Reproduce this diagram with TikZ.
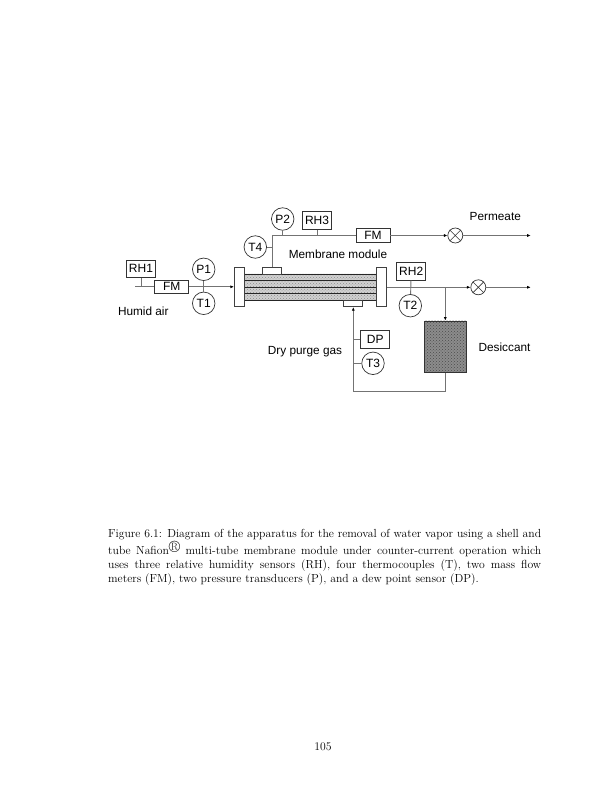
\documentclass[tikz,border=0pt]{standalone}
\usepackage{fontspec}
\newfontfamily\labelfont{Liberation Sans}
\usetikzlibrary{arrows.meta,patterns,positioning}
\tikzset{
    pipe/.style={draw=black!55, line width=0.9pt},
    flow/.style={pipe, -{Latex[length=3.5pt,width=3pt,black]}},
    inst/.style={draw=black!80, line width=0.7pt, fill=white, inner sep=0pt, font=\labelfont\fontsize{12}{13}\selectfont},
    sensorbox/.style={inst, rectangle, minimum width=29pt, minimum height=17.5pt},
    meterbox/.style={inst, rectangle, minimum width=34pt, minimum height=13.5pt},
    sensorcirc/.style={inst, circle, minimum size=22.5pt},
    valve/.style={draw=black!80, line width=0.7pt, fill=white, circle, inner sep=0pt, minimum size=15pt},
    flange/.style={draw=black!75, line width=0.7pt, fill=white, rectangle, inner sep=0pt, minimum width=10pt, minimum height=39pt},
    tab/.style={draw=black!75, line width=0.7pt, fill=white, rectangle, inner sep=0pt, minimum width=19pt, minimum height=6.7pt},
    tube/.style={draw=black!85, line width=0.9pt, rectangle, inner sep=0pt, minimum width=132.7pt, minimum height=6.5pt,
        preaction={fill=black!18}, pattern=crosshatch dots, pattern color=black!45},
    plain/.style={font=\labelfont\fontsize{11.8}{13}\selectfont, inner sep=0pt},
}
\begin{document}
\begin{tikzpicture}[x=1pt,y=-1pt]
    \useasboundingbox (0,0) rectangle (612,792);
    % membrane module
    \foreach \n/\y in {1/277.2,2/283.7,3/290.3,4/296.9}
        \node[tube] (tube\n) at (310.4,\y) {};
    \node[flange] (fleft) at (239.3,286.8) {};
    \node[flange] (fright) at (381.5,286.8) {};
    \node[tab] (tabtop) at (272.3,270.7) {};
    \node[tab] (tabbot) at (353.3,303.4) {};
    \node[plain] (module) at (338,254.3) {Membrane module};
    % instruments
    \node[sensorbox] (rh1) at (141,268.8) {RH1};
    \node[meterbox] (fm1) at (171.7,286.8) {FM};
    \node[sensorcirc] (p1) at (203.7,269.3) {P1};
    \node[sensorcirc] (t1) at (203.7,303.3) {T1};
    \node[sensorcirc] (t4) at (255.3,247) {T4};
    \node[sensorcirc] (p2) at (282.7,219) {P2};
    \node[sensorbox] (rh3) at (317,220.5) {RH3};
    \node[meterbox] (fm2) at (373,235.5) {FM};
    \node[sensorbox] (rh2) at (411.2,271.2) {RH2};
    \node[sensorcirc] (t2) at (410.3,305.7) {T2};
    \node[sensorbox] (dp) at (375.3,339.3) {DP\hspace{6pt}};
    \node[sensorcirc] (t3) at (373,363.3) {T3};
    \node[valve] (v1) at (455.3,235.5) {};
    \node[valve] (v2) at (478.3,287.3) {};
    \node[draw=black!80, line width=0.7pt, rectangle, inner sep=0pt, minimum width=42.7pt, minimum height=51.7pt,
        preaction={fill=black!45}, pattern=crosshatch dots, pattern color=black!70] (desiccant) at (445.3,346.8) {};
    % free ends and junctions
    \coordinate (airin) at (135,286.8);
    \coordinate (rh1j) at (141,286.8);
    \coordinate (topj) at (272.3,235.5);
    \coordinate (t4j) at (272.3,247);
    \coordinate (p2j) at (282.7,235.5);
    \coordinate (rh3j) at (317,235.5);
    \coordinate (permout) at (530.7,235.5);
    \coordinate (sidej) at (445.3,287.3);
    \coordinate (dryout) at (530.7,287.3);
    \coordinate (retb) at (445.3,391.7);
    \coordinate (reta) at (353.3,391.7);
    \coordinate (dpj) at (353.3,339.3);
    \coordinate (t3j) at (353.3,363.3);
    % connectors
    \draw[pipe] (airin) -- (fm1);
    \draw[flow] (fm1) -- (fleft);
    \draw[pipe] (rh1) -- (rh1j);
    \draw[pipe] (p1) -- (t1);
    \draw[pipe] (tabtop) -- (topj) -- (fm2);
    \draw[pipe] (t4) -- (t4j);
    \draw[pipe] (p2) -- (p2j);
    \draw[pipe] (rh3) -- (rh3j);
    \draw[flow] (fm2) -- (v1);
    \draw[flow] (v1) -- (permout);
    \draw[flow] (fright.east |- v2) -- (v2);
    \draw[flow] (v2) -- (dryout);
    \draw[pipe] (rh2) -- (t2);
    \draw[flow] (sidej) -- (desiccant);
    \draw[flow] (desiccant) -- (retb) -- (reta) -- (tabbot);
    \draw[pipe] (dp) -- (dpj);
    \draw[pipe] (t3) -- (t3j);
    % valve crosses
    \draw[draw=black!80, line width=0.6pt] (v1.north west) -- (v1.south east) (v1.north east) -- (v1.south west);
    \draw[draw=black!80, line width=0.6pt] (v2.north west) -- (v2.south east) (v2.north east) -- (v2.south west);
    % labels
    \node[plain] (permeate) at (495.3,216.7) {Permeate};
    \node[plain] (humid) at (143.3,311.7) {Humid air};
    \node[plain] (dry) at (305,352) {Dry purge gas};
    \node[plain] (desc) at (504.5,347.5) {Desiccant};
    \node[anchor=north west, inner sep=0pt, text width=433pt, align=justify, font=\fontsize{11.7}{14.2}\selectfont] (caption) at (108,529.5)
        {Figure 6.1: Diagram of the apparatus for the removal of water vapor using a shell and\linebreak
        tube Nafion{\raisebox{1.5pt}{\fontsize{16.5}{16.5}\selectfont\textregistered}} multi-tube membrane module under counter-current operation which\linebreak
        uses three relative humidity sensors (RH), four thermocouples (T), two mass flow\linebreak
        meters (FM), two pressure transducers (P), and a dew point sensor (DP).};
    \node[inner sep=0pt, font=\fontsize{11.7}{13}\selectfont] (page) at (323,747) {105};
\end{tikzpicture}
\end{document}
